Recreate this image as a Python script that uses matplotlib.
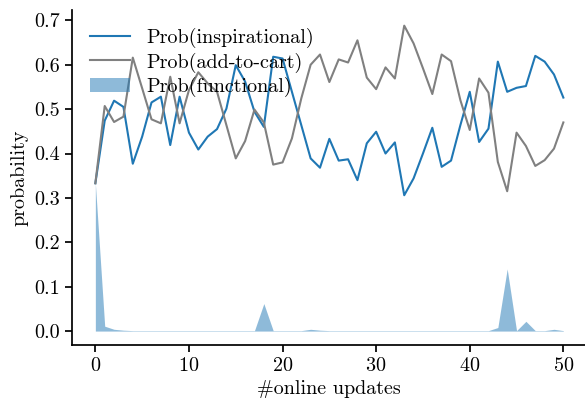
import matplotlib
matplotlib.use("Agg")
import matplotlib.pyplot as plt
import numpy as np

updates = list(range(51))
p_inspirational = [0.333, 0.474, 0.519, 0.505, 0.377, 0.438, 0.515, 0.528, 0.419, 0.528,
                   0.447, 0.409, 0.438, 0.455, 0.501, 0.599, 0.562, 0.494, 0.460, 0.618,
                   0.614, 0.539, 0.464, 0.389, 0.368, 0.433, 0.384, 0.387, 0.340, 0.423,
                   0.449, 0.400, 0.425, 0.306, 0.344, 0.400, 0.458, 0.370, 0.384, 0.464,
                   0.539, 0.426, 0.456, 0.607, 0.539, 0.548, 0.552, 0.620, 0.607, 0.578,
                   0.526]
p_add_to_cart = [0.333, 0.507, 0.471, 0.483, 0.616, 0.547, 0.477, 0.468, 0.573, 0.468,
                 0.543, 0.583, 0.558, 0.539, 0.464, 0.389, 0.428, 0.499, 0.470, 0.375,
                 0.380, 0.434, 0.524, 0.600, 0.623, 0.561, 0.612, 0.605, 0.655, 0.571,
                 0.545, 0.594, 0.569, 0.688, 0.648, 0.592, 0.534, 0.623, 0.608, 0.520,
                 0.453, 0.569, 0.537, 0.381, 0.315, 0.447, 0.417, 0.372, 0.385, 0.411,
                 0.470]
p_functional = [0.333, 0.011, 0.004, 0.002, 0.001, 0.001, 0.001, 0.001, 0.001, 0.001,
                0.001, 0.001, 0.001, 0.001, 0.001, 0.001, 0.001, 0.001, 0.062, 0.001,
                0.001, 0.001, 0.001, 0.004, 0.002, 0.001, 0.001, 0.001, 0.001, 0.001,
                0.001, 0.001, 0.001, 0.001, 0.001, 0.001, 0.001, 0.001, 0.001, 0.001,
                0.001, 0.001, 0.001, 0.008, 0.140, 0.001, 0.022, 0.001, 0.001, 0.004,
                0.001]

plt.rcParams['font.family'] = ['cmr10', 'DejaVu Serif']
plt.rcParams['axes.formatter.use_mathtext'] = True
plt.rcParams['font.size'] = 14.5

fig = plt.figure(figsize=(5.85, 4.05), dpi=100)
ax = fig.add_axes([0.123, 0.148, 0.880, 0.827])

ax.plot(updates, p_inspirational, color='#1f77b4', lw=1.5, label='Prob(inspirational)')
ax.plot(updates, p_add_to_cart, color='gray', lw=1.5, label='Prob(add-to-cart)')
ax.fill_between(updates, 0, p_functional, color='#1f77b4', alpha=0.5, lw=0,
                label='Prob(functional)')

ax.set_xlim(-2.5, 52.5)
ax.set_ylim(-0.0315, 0.723)
ax.set_xticks([0, 10, 20, 30, 40, 50])
ax.set_yticks([0.0, 0.1, 0.2, 0.3, 0.4, 0.5, 0.6, 0.7])
ax.set_yticklabels(['0.0', '0.1', '0.2', '0.3', '0.4', '0.5', '0.6', '0.7'])
ax.set_xlabel('#online updates')
ax.set_ylabel('probability')
ax.spines['top'].set_visible(False)
ax.spines['right'].set_visible(False)
ax.spines['left'].set_linewidth(1.25)
ax.spines['bottom'].set_linewidth(1.25)
ax.tick_params(direction='out', length=5, width=1.25)

ax.legend(loc='upper left', frameon=False, labelspacing=0.2)

fig.savefig('out.png', dpi=100)
